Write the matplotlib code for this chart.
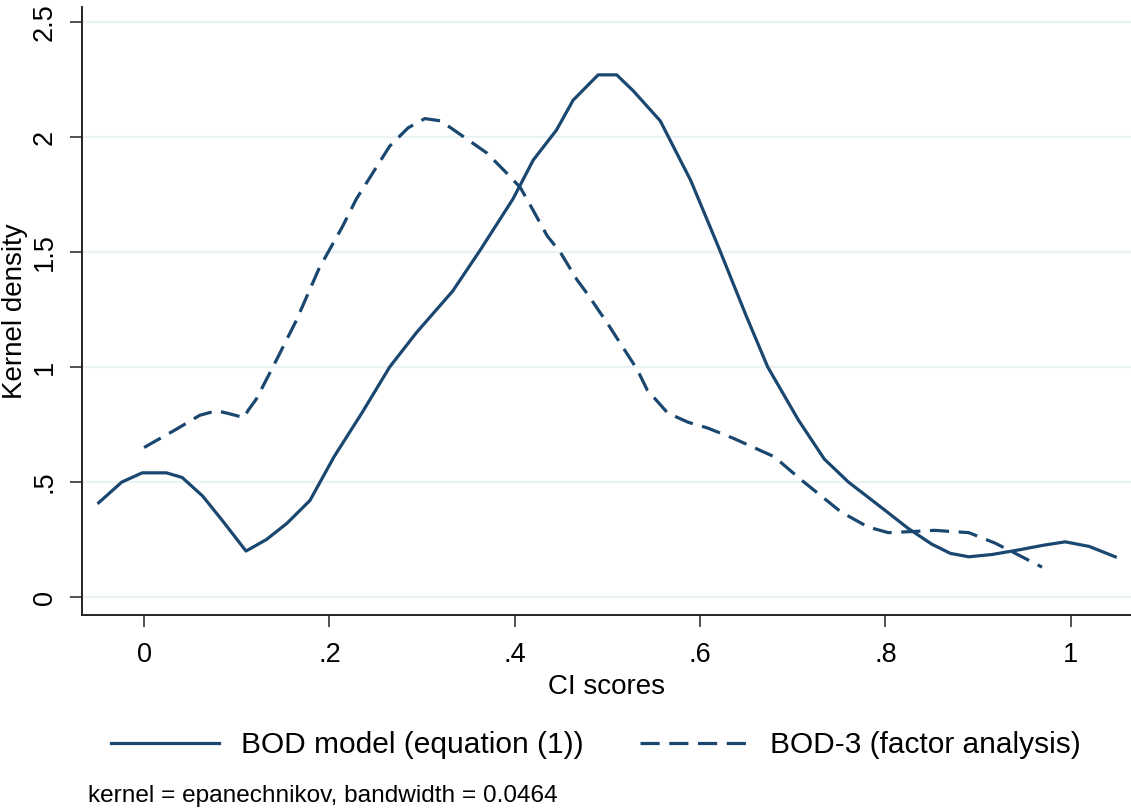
import matplotlib
matplotlib.use("Agg")
import matplotlib.pyplot as plt

plt.rcParams['font.family'] = ['Liberation Sans', 'DejaVu Sans']

# BOD model (equation (1)) - solid curve
bod_x = [-0.049, -0.024, -0.002, 0.024, 0.041, 0.063, 0.084, 0.110, 0.132, 0.154,
         0.179, 0.205, 0.235, 0.265, 0.294, 0.333, 0.363, 0.398, 0.420, 0.445,
         0.463, 0.490, 0.510, 0.528, 0.557, 0.590, 0.620, 0.650, 0.673, 0.706,
         0.734, 0.760, 0.781, 0.805, 0.824, 0.850, 0.870, 0.890, 0.915, 0.944,
         0.970, 0.994, 1.020, 1.048]
bod_y = [0.41, 0.50, 0.54, 0.54, 0.52, 0.44, 0.335, 0.20, 0.25, 0.32,
         0.42, 0.61, 0.80, 1.00, 1.15, 1.33, 1.51, 1.73, 1.90, 2.03,
         2.16, 2.27, 2.27, 2.20, 2.07, 1.81, 1.52, 1.22, 1.00, 0.77,
         0.60, 0.50, 0.435, 0.36, 0.30, 0.23, 0.19, 0.175, 0.185, 0.205,
         0.225, 0.24, 0.22, 0.175]

# BOD-3 (factor analysis) - dashed curve
fa_x = [0.000, 0.013, 0.035, 0.060, 0.078, 0.089, 0.108, 0.112, 0.121, 0.139,
        0.164, 0.189, 0.214, 0.229, 0.265, 0.285, 0.303, 0.320, 0.338, 0.370,
        0.392, 0.406, 0.420, 0.435, 0.449, 0.467, 0.478, 0.500, 0.532, 0.543,
        0.565, 0.587, 0.608, 0.636, 0.680, 0.709, 0.752, 0.781, 0.803, 0.830,
        0.853, 0.890, 0.918, 0.945, 0.969]
fa_y = [0.65, 0.68, 0.73, 0.79, 0.81, 0.80, 0.78, 0.81, 0.86, 1.00,
        1.20, 1.43, 1.61, 1.73, 1.96, 2.04, 2.08, 2.07, 2.02, 1.93,
        1.84, 1.78, 1.68, 1.57, 1.50, 1.38, 1.32, 1.19, 0.99, 0.90,
        0.80, 0.76, 0.735, 0.69, 0.61, 0.51, 0.37, 0.305, 0.28, 0.285,
        0.29, 0.28, 0.235, 0.18, 0.13]

xticks = [0, 0.2, 0.4, 0.6, 0.8, 1.0]
xtick_labels = ['0', '.2', '.4', '.6', '.8', '1']
yticks = [0, 0.5, 1.0, 1.5, 2.0, 2.5]
ytick_labels = ['0', '.5', '1', '1.5', '2', '2.5']

navy = '#1a476f'

fig = plt.figure(figsize=(11.31, 8.09), dpi=100)
ax = fig.add_axes([82 / 1131, (809 - 615) / 809, 1 - 82 / 1131, (615 - 7) / 809])

for y in yticks:
    ax.axhline(y, color='#eaf2f3', lw=1.6, zorder=0)

ax.plot(bod_x, bod_y, color=navy, lw=2.3, label='BOD model (equation (1))')
ax.plot(fa_x, fa_y, color=navy, lw=2.3, dashes=(6, 3), label='BOD-3 (factor analysis)')

ax.set_xlim(-0.067, 1.065)
ax.set_ylim(-0.078, 2.565)
ax.set_xticks(xticks)
ax.set_xticklabels(xtick_labels)
ax.set_yticks(yticks)
ax.set_yticklabels(ytick_labels, rotation=90, va='center')

for s in ['top', 'right']:
    ax.spines[s].set_visible(False)
for s in ['left', 'bottom']:
    ax.spines[s].set_linewidth(1.4)
    ax.spines[s].set_color('#222222')

ax.tick_params(axis='both', direction='out', length=8.5, width=1.1,
               labelsize=19.5, color='#222222')
ax.tick_params(axis='x', pad=11)
ax.tick_params(axis='y', pad=9)
ax.set_xlabel('CI scores', fontsize=20, labelpad=4)
ax.set_ylabel('Kernel density', fontsize=20, labelpad=3)

fig.legend(loc='center', bbox_to_anchor=(0.527, 1 - 745 / 809), ncol=2,
           frameon=False, fontsize=21.5, handlelength=3.6, handletextpad=0.75,
           columnspacing=1.9)

fig.text(88 / 1131, 1 - 796 / 809, 'kernel = epanechnikov, bandwidth = 0.0464',
         fontsize=17.6, ha='left', va='center')

fig.savefig('out.png', dpi=100)
